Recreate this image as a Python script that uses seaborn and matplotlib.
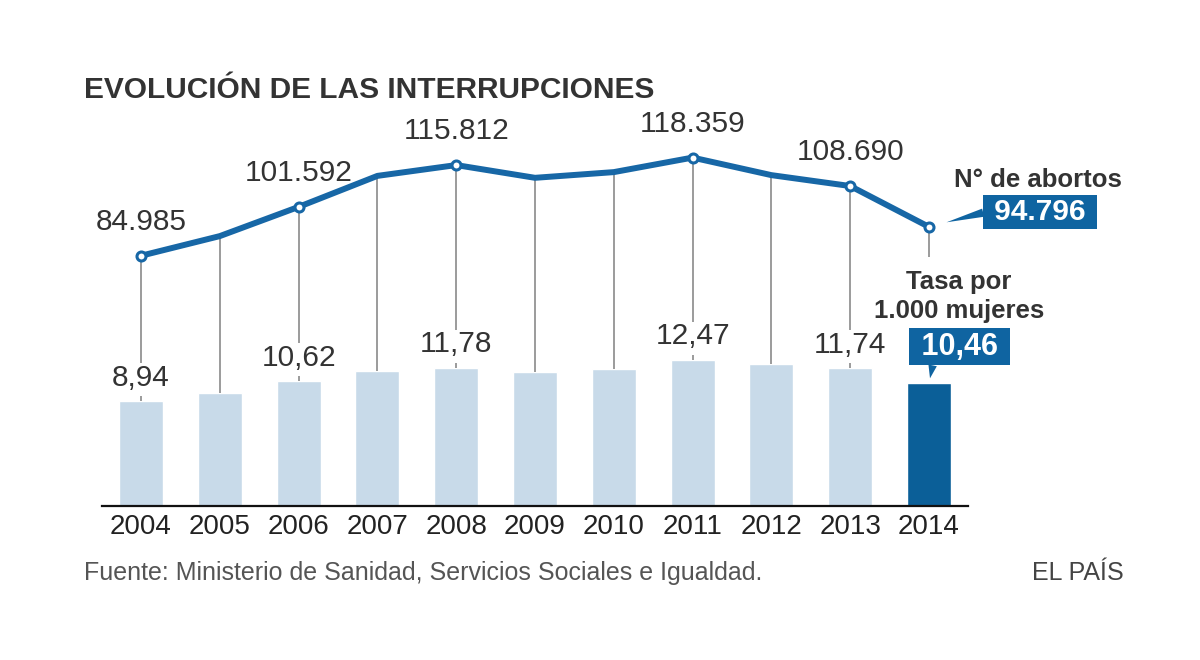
import numpy as np
import pandas as pd
import matplotlib.pyplot as plt
import seaborn as sns

# Datos
years = [2004, 2005, 2006, 2007, 2008, 2009, 2010, 2011, 2012, 2013, 2014]
abortos = [84985, 91664, 101592, 112138, 115812, 111482, 113419, 118359, 112390, 108690, 94796]
tasa = [8.94, 9.60, 10.62, 11.49, 11.78, 11.41, 11.71, 12.47, 12.12, 11.74, 10.46]
labeled_years = [2004, 2006, 2008, 2011, 2013]

title = 'EVOLUCIÓN DE LAS INTERRUPCIONES'
source = 'Fuente: Ministerio de Sanidad, Servicios Sociales e Igualdad.'
brand = 'EL PAÍS'

# Colores
LINE_BLUE = '#1767a6'
BOX_BLUE = '#0f64a1'
BAR_LIGHT = '#c8dae9'
BAR_DARK = '#0b5f98'
GRAY = '#8a8a8a'
TEXT = '#333333'

# Escalas (ambos ejes comparten la linea base)
AX_H_PX = 405.7
RATE_TOP = 34.65
AB_TOP = 137938
px2ab = AB_TOP / AX_H_PX
K = AB_TOP / RATE_TOP


def fmt_miles(v):
    return f'{v:,}'.replace(',', '.')


def fmt_dec(v):
    return f'{v:.2f}'.replace('.', ',')


sns.set_style('white')
plt.rcParams['font.family'] = ['Liberation Sans', 'DejaVu Sans']

fig = plt.figure(figsize=(12, 6.6), dpi=100)
ax = fig.add_axes([101.6 / 1200, (660 - 505.7) / 660, 866.8 / 1200, AX_H_PX / 660])

df = pd.DataFrame({'year': years, 'tasa': tasa, 'abortos': abortos})
df['grupo'] = ['ultimo' if y == years[-1] else 'resto' for y in years]

# Barras: tasa por 1.000 mujeres
sns.barplot(data=df, x='year', y='tasa', hue='grupo', native_scale=True,
            palette={'resto': BAR_LIGHT, 'ultimo': BAR_DARK}, dodge=False,
            width=0.56, legend=False, saturation=1, ax=ax, zorder=2)
ax.set_xlim(years[0] - 0.5, years[-1] + 0.5)
ax.set_ylim(0, RATE_TOP)
ax.set_xticks(years)
ax.set_xticklabels([str(y) for y in years], fontsize=20, color='#222222')
ax.tick_params(axis='x', length=0, pad=6)
ax.set_yticks([])
ax.set_xlabel('')
ax.set_ylabel('')
for s in ['top', 'right', 'left']:
    ax.spines[s].set_visible(False)
ax.spines['bottom'].set_color('#111111')
ax.spines['bottom'].set_linewidth(1.6)
ax.spines['bottom'].set_zorder(5)

# Linea: numero de abortos
ax2 = ax.twinx()
ax2.set_ylim(0, AB_TOP)
ax2.set_yticks([])
for s in ax2.spines.values():
    s.set_visible(False)

# Conectores grises
for yr, ab, t in zip(years, abortos, tasa):
    top_ab = t * K
    if yr in labeled_years:
        bottom = top_ab + 38 * px2ab
        ax2.vlines(yr, top_ab, top_ab + 5 * px2ab, color=GRAY, lw=1.2, zorder=1)
    elif yr == years[-1]:
        bottom = ab - 30 * px2ab
    else:
        bottom = top_ab
    ax2.vlines(yr, bottom, ab, color=GRAY, lw=1.2, zorder=1)

sns.lineplot(data=df, x='year', y='abortos', ax=ax2, color=LINE_BLUE,
             lw=4.3, zorder=3, solid_capstyle='round', solid_joinstyle='round')
marked = df[df['year'].isin(labeled_years + [years[-1]])]
sns.scatterplot(data=marked, x='year', y='abortos', ax=ax2, s=42,
                color='white', edgecolor=LINE_BLUE, linewidth=2.2, zorder=4)
ax2.set_xlabel('')
ax2.set_ylabel('')

# Etiquetas de valores
for yr, ab, t in zip(years, abortos, tasa):
    if yr in labeled_years:
        ax2.annotate(fmt_miles(ab), xy=(yr, ab), xytext=(0, 18.5),
                     textcoords='offset points', ha='center', va='baseline',
                     fontsize=21.5, color=TEXT)
        ax.annotate(fmt_dec(t), xy=(yr, t), xytext=(0, 11),
                    textcoords='offset points', ha='center', va='baseline',
                    fontsize=21.5, color=TEXT)

# Llamadas del ultimo anio
ax2.annotate('N° de abortos', xy=(years[-1], abortos[-1]), xytext=(78.5, 28.6),
             textcoords='offset points', ha='center', va='baseline',
             fontsize=18.5, fontweight='bold', color=TEXT, annotation_clip=False)
ax2.annotate(' ' + fmt_miles(abortos[-1]) + ' ', xy=(years[-1], abortos[-1]),
             xytext=(80, 10.8), textcoords='offset points', ha='center', va='center',
             fontsize=21.5, fontweight='bold', color='white', annotation_clip=False,
             bbox=dict(boxstyle='square,pad=0.1', fc=BOX_BLUE, ec='none'),
             arrowprops=dict(arrowstyle='wedge,tail_width=0.28', fc=BOX_BLUE, ec='none',
                             shrinkA=0, shrinkB=13, relpos=(0, 0.5)))

ax.annotate('Tasa por', xy=(years[-1], tasa[-1]), xytext=(21.6, 67.6),
            textcoords='offset points', ha='center', va='baseline',
            fontsize=18.5, fontweight='bold', color=TEXT, annotation_clip=False)
ax.annotate('1.000 mujeres', xy=(years[-1], tasa[-1]), xytext=(21.6, 46.7),
            textcoords='offset points', ha='center', va='baseline',
            fontsize=18.5, fontweight='bold', color=TEXT, annotation_clip=False)
ax.annotate(' ' + fmt_dec(tasa[-1]) + ' ', xy=(years[-1], tasa[-1]),
            xytext=(22, 26.3), textcoords='offset points', ha='center', va='center',
            fontsize=22, fontweight='bold', color='white', annotation_clip=False,
            bbox=dict(boxstyle='square,pad=0.12', fc=BOX_BLUE, ec='none'),
            arrowprops=dict(arrowstyle='wedge,tail_width=0.28', fc=BOX_BLUE, ec='none',
                            shrinkA=0, shrinkB=3.6, relpos=(0.22, 0)))

# Titulo y pie
fig.text(84 / 1200, 1 - 98.3 / 660, title, fontsize=21.5, fontweight='bold',
         color=TEXT, ha='left', va='baseline')
fig.text(84 / 1200, 1 - 580 / 660, source, fontsize=18, color='#555555',
         ha='left', va='baseline')
fig.text(1124 / 1200, 1 - 580 / 660, brand, fontsize=18, color='#444444',
         ha='right', va='baseline')

fig.savefig('out.png', dpi=100)
